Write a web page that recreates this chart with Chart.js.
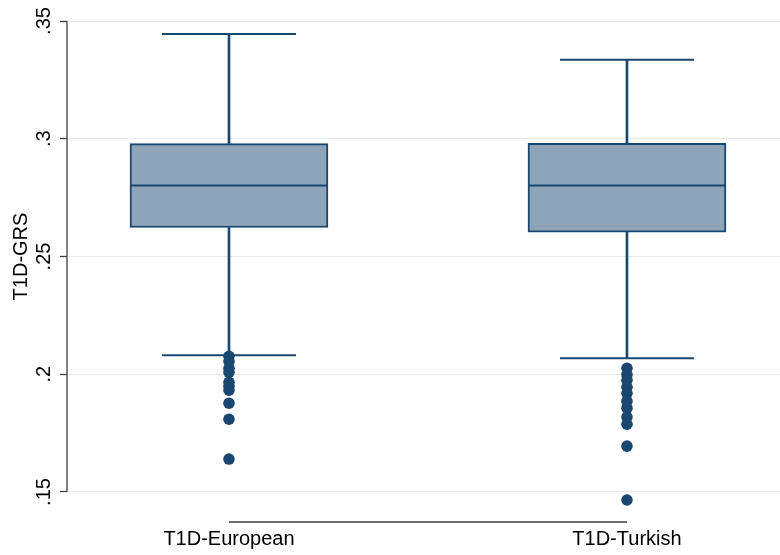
<!DOCTYPE html>
<html>
<head>
<meta charset="utf-8">
<script src="https://cdn.jsdelivr.net/npm/chart.js@4/dist/chart.umd.min.js"></script>
<style>
  html, body { margin: 0; padding: 0; background: #ffffff; }
  #wrap { width: 780px; height: 555px; position: relative; }
</style>
</head>
<body>
<div id="wrap"><canvas id="c" width="780" height="555"></canvas></div>
<script>
// ---- data ----
const categories = ['T1D-European', 'T1D-Turkish'];
const whiskerLow  = [0.2081, 0.2068];
const q1          = [0.2623, 0.2603];
const median      = [0.2801, 0.2801];
const q3          = [0.2979, 0.2981];
const whiskerHigh = [0.3445, 0.3335];
const outliersEuropean = [0.2076, 0.2055, 0.2025, 0.2008, 0.1966, 0.1949, 0.1932, 0.1877, 0.1809, 0.1640];
const outliersTurkish  = [0.2025, 0.1999, 0.1974, 0.1945, 0.1919, 0.1885, 0.1856, 0.1818, 0.1788, 0.1695, 0.1466];
const yTicks = [0.15, 0.2, 0.25, 0.3, 0.35];
const yTickLabels = ['.15', '.2', '.25', '.3', '.35'];
const yTitle = 'T1D-GRS';

// ---- styles ----
const NAVY = '#1a476f';
const FILL = '#8ea4b9';
const GRID = '#eaeaea';
const AXIS = '#404040';
const FONT = 'Liberation Sans, Arial, Helvetica, sans-serif';

const xPos = categories.map((c, i) => i + 1);

const boxData = xPos.map((x, i) => ({ x, y: [q1[i], q3[i]] }));
const upperWhisker = xPos.map((x, i) => ({ x, y: [q3[i], whiskerHigh[i]] }));
const lowerWhisker = xPos.map((x, i) => ({ x, y: [whiskerLow[i], q1[i]] }));
const caps = [];
xPos.forEach((x, i) => { caps.push({ x, y: whiskerHigh[i] }); caps.push({ x, y: whiskerLow[i] }); });
const medians = xPos.map((x, i) => ({ x, y: median[i] }));
const outlierPts = [];
outliersEuropean.forEach(v => outlierPts.push({ x: xPos[0], y: v }));
outliersTurkish.forEach(v => outlierPts.push({ x: xPos[1], y: v }));

const axisLines = {
  id: 'axisLines',
  afterLayout(chart) {
    // centre the y-axis title on the tick range (as Stata does)
    const y = chart.scales.y;
    y.top = y.getPixelForValue(yTicks[yTicks.length - 1]);
    y.bottom = y.getPixelForValue(yTicks[0]);
  },
  afterDatasetsDraw(chart) {
    const { ctx, chartArea, scales } = chart;
    const x = scales.x, y = scales.y;
    ctx.save();
    ctx.strokeStyle = AXIS;
    ctx.lineWidth = 1.3;
    ctx.beginPath();
    const ax = chartArea.left;
    ctx.moveTo(ax, y.getPixelForValue(yTicks[yTicks.length - 1]));
    ctx.lineTo(ax, y.getPixelForValue(yTicks[0]));
    const by = chartArea.bottom;
    ctx.moveTo(x.getPixelForValue(xPos[0]), by);
    ctx.lineTo(x.getPixelForValue(xPos[xPos.length - 1]), by);
    ctx.stroke();
    ctx.restore();
  }
};

function zeroPad(s) { s.paddingLeft = 0; s.paddingRight = 0; s.paddingTop = 0; s.paddingBottom = 0; }

new Chart(document.getElementById('c'), {
  type: 'bar',
  data: {
    datasets: [
      { type: 'scatter', data: outlierPts, pointRadius: 5.8, pointHoverRadius: 5.8,
        backgroundColor: NAVY, borderWidth: 0, order: 1, clip: false },
      { type: 'scatter', data: medians, pointStyle: 'line', pointRadius: 98.5, pointHoverRadius: 98.5,
        borderColor: NAVY, borderWidth: 2, order: 2, clip: false },
      { type: 'scatter', data: caps, pointStyle: 'line', pointRadius: 67, pointHoverRadius: 67,
        borderColor: NAVY, borderWidth: 2, order: 3, clip: false },
      { type: 'bar', data: boxData, backgroundColor: FILL, borderColor: NAVY, borderWidth: 2,
        borderSkipped: false, barThickness: 198, grouped: false, order: 4 },
      { type: 'bar', data: upperWhisker, backgroundColor: NAVY, borderWidth: 0,
        barThickness: 2, grouped: false, order: 5 },
      { type: 'bar', data: lowerWhisker, backgroundColor: NAVY, borderWidth: 0,
        barThickness: 2, grouped: false, order: 5 }
    ]
  },
  options: {
    responsive: false,
    animation: false,
    events: [],
    layout: { autoPadding: false, padding: { top: 21, right: 0, bottom: 0, left: 0 } },
    plugins: { legend: { display: false }, tooltip: { enabled: false } },
    scales: {
      x: {
        type: 'linear',
        offset: false,
        min: 0.593,
        max: 2.3845,
        afterBuildTicks: s => { s.ticks = xPos.map(v => ({ value: v })); },
        afterFit: s => { s.height = 33; zeroPad(s); },
        grid: { display: false, drawTicks: false },
        border: { display: false },
        ticks: {
          padding: 5,
          color: '#000',
          font: { family: FONT, size: 20 },
          maxRotation: 0, minRotation: 0,
          callback: (v) => categories[xPos.indexOf(v)] ?? ''
        }
      },
      y: {
        type: 'linear',
        min: 0.13726,
        max: 0.35,
        afterBuildTicks: s => { s.ticks = yTicks.map(v => ({ value: v })); },
        afterFit: s => { s.width = 67; zeroPad(s); },
        grid: { color: GRID, lineWidth: 1, tickLength: 7, tickColor: AXIS, tickWidth: 1.3 },
        border: { display: false },
        ticks: {
          minRotation: 90, maxRotation: 90,
          crossAlign: 'center',
          padding: 2,
          color: '#000',
          font: { family: FONT, size: 20 },
          callback: (v) => { const i = yTicks.findIndex(t => Math.abs(t - v) < 1e-9); return i >= 0 ? yTickLabels[i] : ''; }
        },
        title: {
          display: true, text: yTitle, color: '#000',
          font: { family: FONT, size: 20 },
          padding: { top: 9, bottom: 0 }
        }
      }
    }
  },
  plugins: [axisLines]
});
</script>
</body>
</html>
